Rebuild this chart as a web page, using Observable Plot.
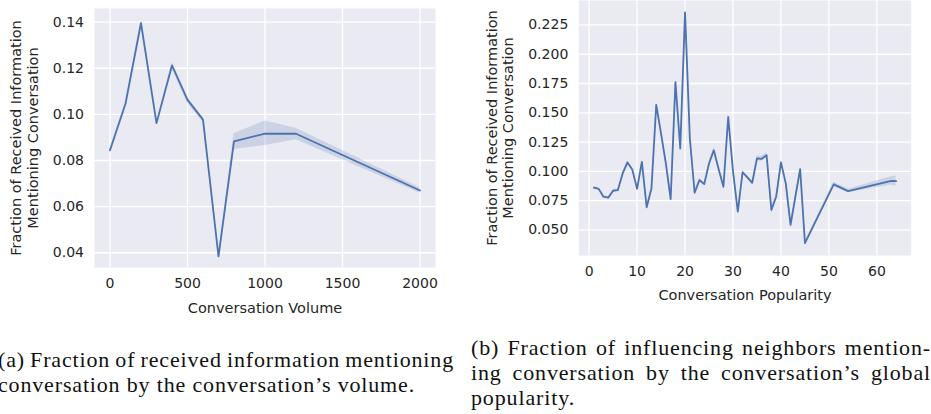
<!DOCTYPE html>
<html>
<head>
<meta charset="utf-8">
<script src="https://cdn.jsdelivr.net/npm/d3@7"></script>
<script src="https://cdn.jsdelivr.net/npm/@observablehq/plot@0.6"></script>
<style>
  html, body { margin: 0; padding: 0; background: #fff; }
  #wrap { position: relative; width: 931px; height: 414px; overflow: hidden; background: #fff; }
  #wrap > svg { position: absolute; top: 0; }
</style>
</head>
<body>
<div id="wrap"></div>
<script>
// ---------- Data: panel (a) ----------
const volumeX = [0, 100, 200, 300, 400, 500, 600, 700, 800, 1000, 1200, 2000];
const volumeY = [0.0844, 0.1046, 0.1396, 0.0962, 0.1212, 0.1063, 0.0977, 0.0384, 0.0883, 0.0916, 0.0916, 0.0670];
const volumeLo = [0.0837, 0.1040, 0.1391, 0.0957, 0.1198, 0.1048, 0.0966, 0.0378, 0.0848, 0.0865, 0.0890, 0.0658];
const volumeHi = [0.0851, 0.1052, 0.1402, 0.0967, 0.1225, 0.1075, 0.0985, 0.0390, 0.0916, 0.0971, 0.0940, 0.0682];
const volumeXTicks = [0, 500, 1000, 1500, 2000];
const volumeYTicks = [0.04, 0.06, 0.08, 0.10, 0.12, 0.14];

// ---------- Data: panel (b) ----------
const popX = [1, 2, 3, 4, 5, 6, 7, 8, 9, 10, 11, 12, 13, 14, 15, 16, 17, 18, 19, 20,
              21, 22, 23, 24, 25, 26, 27, 28, 29, 30, 31, 32, 33, 34, 35, 36, 37, 38, 39, 40,
              41, 42, 43, 44, 45, 51, 54, 63, 64];
const popY = [0.0860, 0.0850, 0.0783, 0.0775, 0.0834, 0.0840, 0.0982, 0.1076, 0.1016, 0.0850,
              0.1081, 0.0693, 0.0854, 0.1568, 0.1322, 0.1067, 0.0762, 0.1762, 0.1195, 0.2358,
              0.1280, 0.0817, 0.0925, 0.0891, 0.1067, 0.1180, 0.1020, 0.0868, 0.1464, 0.1000,
              0.0656, 0.0992, 0.0948, 0.0902, 0.1110, 0.1107, 0.1138, 0.0670, 0.0783, 0.1076,
              0.0897, 0.0542, 0.0783, 0.1019, 0.0386, 0.0888, 0.0831, 0.0919, 0.0916];
const popErr = [0.0010, 0.0010, 0.0010, 0.0010, 0.0010, 0.0010, 0.0012, 0.0012, 0.0012, 0.0012,
                0.0015, 0.0015, 0.0012, 0.0020, 0.0015, 0.0015, 0.0015, 0.0020, 0.0015, 0.0015,
                0.0015, 0.0015, 0.0015, 0.0015, 0.0015, 0.0022, 0.0015, 0.0015, 0.0020, 0.0015,
                0.0015, 0.0015, 0.0015, 0.0015, 0.0020, 0.0022, 0.0020, 0.0030, 0.0015, 0.0020,
                0.0015, 0.0025, 0.0015, 0.0020, 0.0015, 0.0020, 0.0015, 0.0035, 0.0045];
const popXTicks = [0, 10, 20, 30, 40, 50, 60];
const popYTicks = [0.050, 0.075, 0.100, 0.125, 0.150, 0.175, 0.200, 0.225];

const yLabel = "Fraction of Received Information\nMentioning Conversation";

const BLUE = "#4c72b0";
const BG = "#eaeaf2";
const TXT = "#262626";

function chart(cfg) {
  const data = cfg.x.map((x, i) => ({x, y: cfg.y[i], lo: cfg.lo[i], hi: cfg.hi[i]}));
  return Plot.plot({
    width: cfg.width, height: cfg.height,
    marginLeft: cfg.ml, marginRight: cfg.mr, marginTop: cfg.mt, marginBottom: cfg.mb,
    style: {fontFamily: "DejaVu Sans", fontSize: "14px", color: TXT, background: "transparent", overflow: "visible"},
    x: {domain: cfg.xDomain},
    y: {domain: cfg.yDomain},
    marks: [
      Plot.frame({fill: BG, stroke: "none"}),
      Plot.gridX(cfg.xTicks, {stroke: "#fff", strokeOpacity: 1, strokeWidth: 1.3}),
      Plot.gridY(cfg.yTicks, {stroke: "#fff", strokeOpacity: 1, strokeWidth: 1.3}),
      Plot.axisX(cfg.xTicks, {tickSize: 0, tickPadding: 11, label: null, tickFormat: cfg.xFmt, fontSize: 14}),
      Plot.axisY(cfg.yTicks, {tickSize: 0, tickPadding: 10.5, label: null, tickFormat: cfg.yFmt, fontSize: 14}),
      Plot.areaY(data, {x: "x", y1: "lo", y2: "hi", fill: BLUE, fillOpacity: 0.2}),
      Plot.lineY(data, {x: "x", y: "y", stroke: BLUE, strokeWidth: 1.8}),
      Plot.text([cfg.xLabel], {text: d => d, frameAnchor: "bottom", dy: cfg.xLabelDy, fontSize: 14.5, fill: TXT}),
      Plot.text([yLabel], {text: d => d, frameAnchor: "left", dx: cfg.yLabelDx, rotate: -90,
                           textAnchor: "middle", lineAnchor: "middle",
                           lineHeight: cfg.yLineHeight, fontSize: 14.5, fill: TXT})
    ]
  });
}

const wrap = document.getElementById("wrap");

const a = chart({
  x: volumeX, y: volumeY, lo: volumeLo, hi: volumeHi,
  width: 460, height: 330, ml: 94, mr: 25, mt: 8, mb: 63,
  xDomain: [-100, 2100], yDomain: [0.0336, 0.1459],
  xTicks: volumeXTicks, yTicks: volumeYTicks,
  xFmt: d3.format("d"), yFmt: d3.format(".2f"),
  xLabel: "Conversation Volume", xLabelDy: 45,
  yLabelDx: -70.2, yLineHeight: 1.16
});
a.style.left = "0px";
wrap.appendChild(a);

const b = chart({
  x: popX, y: popY, lo: popY.map((v, i) => v - popErr[i]), hi: popY.map((v, i) => v + popErr[i]),
  width: 461, height: 330, ml: 108.3, mr: 20.3, mt: 0, mb: 75,
  xDomain: [-2.15, 67.15], yDomain: [0.0281, 0.2459],
  xTicks: popXTicks, yTicks: popYTicks,
  xFmt: d3.format("d"), yFmt: d3.format(".3f"),
  xLabel: "Conversation Popularity", xLabelDy: 44,
  yLabelDx: -78.5, yLineHeight: 1.08
});
b.style.left = "470px";
wrap.appendChild(b);

// ---------- Captions ----------
const captionLines = [
  {t: "(a) Fraction of received information mentioning", x: -2, y: 367, w: 456, j: true},
  {t: "conversation by the conversation\u2019s volume.", x: -2, y: 392, w: 417, j: false},
  {t: "(b) Fraction of influencing neighbors mention-", x: 471, y: 355, w: 460, j: true},
  {t: "ing conversation by the conversation\u2019s global", x: 471, y: 380, w: 460, j: true},
  {t: "popularity.", x: 471, y: 405, w: 104, j: false}
];
const cap = d3.select(wrap).append("svg")
  .attr("width", 931).attr("height", 414)
  .style("left", "0px").style("pointer-events", "none");
const els = captionLines.map(l => {
  const el = cap.append("text").attr("x", l.x).attr("y", l.y)
    .attr("font-family", "Liberation Serif").attr("font-size", 22).attr("fill", "#111")
    .text(l.t);
  return {l, el, n0: el.node().getComputedTextLength()};
});
const free = els.filter(e => !e.l.j);
const ls = d3.mean(free, e => (e.l.w - e.n0) / e.l.t.length);
els.forEach(e => {
  if (!e.l.j) {
    e.el.attr("letter-spacing", (e.l.w - e.n0) / e.l.t.length);
  } else {
    e.el.attr("letter-spacing", ls);
    const n1 = e.el.node().getComputedTextLength();
    const spaces = (e.l.t.match(/ /g) || []).length;
    e.el.attr("word-spacing", (e.l.w - n1) / spaces);
  }
});
</script>
</body>
</html>
